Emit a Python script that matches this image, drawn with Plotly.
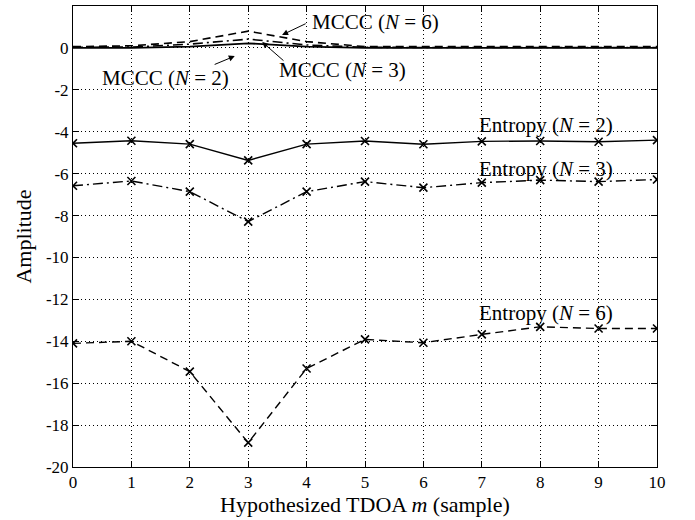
import plotly.graph_objects as go

m = list(range(11))

entropy_n2 = [-4.55, -4.43, -4.59, -5.37, -4.59, -4.44, -4.60, -4.46, -4.44, -4.48, -4.40]
entropy_n3 = [-6.58, -6.35, -6.86, -8.29, -6.86, -6.38, -6.67, -6.43, -6.31, -6.38, -6.28]
entropy_n6 = [-14.10, -14.00, -15.45, -18.84, -15.30, -13.91, -14.07, -13.67, -13.31, -13.39, -13.39]

mccc_n2 = [0.0, 0.0, 0.06, 0.22, 0.06, 0.0, 0.0, 0.0, 0.0, 0.0, 0.0]
mccc_n3 = [0.03, 0.04, 0.18, 0.42, 0.14, 0.03, 0.02, 0.02, 0.02, 0.02, 0.02]
mccc_n6 = [0.06, 0.1, 0.3, 0.8, 0.3, 0.06, 0.06, 0.06, 0.06, 0.06, 0.06]

x_ticks = list(range(11))
x_ticktext = [str(v) for v in x_ticks]
y_ticks = list(range(-20, 3, 2))
y_ticktext = [str(v) for v in y_ticks]

SERIF = "Liberation Serif"
DASH = "8px,5px"
DASHDOT = "10px,4px,2px,4px"

fig = go.Figure()

def add_line(y, dash, markers=False, width=1.4):
    fig.add_trace(go.Scatter(
        x=m, y=y,
        mode="lines+markers" if markers else "lines",
        line=dict(color="black", width=width, dash=dash),
        marker=dict(symbol="x-thin", size=8, line=dict(color="black", width=1.6)),
        showlegend=False,
    ))

add_line(mccc_n6, DASH, width=1.6)
add_line(mccc_n3, DASHDOT, width=1.6)
add_line(mccc_n2, "solid", width=1.8)
add_line(entropy_n2, "solid", markers=True)
add_line(entropy_n3, DASHDOT, markers=True)
add_line(entropy_n6, DASH, markers=True)

ann_font = dict(family=SERIF, size=21, color="black")

texts = [
    ("MCCC (<i>N</i> = 6)", 4.06, 1.22, "left"),
    ("MCCC (<i>N</i> = 2)", 1.58, -1.42, "center"),
    ("MCCC (<i>N</i> = 3)", 4.61, -1.05, "center"),
    ("Entropy (<i>N</i> = 2)", 8.10, -3.68, "center"),
    ("Entropy (<i>N</i> = 3)", 8.10, -5.78, "center"),
    ("Entropy (<i>N</i> = 6)", 8.10, -12.65, "center"),
]
for t, x, y, xa in texts:
    fig.add_annotation(x=x, y=y, text=t, showarrow=False, xanchor=xa,
                       yanchor="middle", font=ann_font)

arrows = [
    (3.58, 0.62, 4.01, 1.19),
    (2.77, -0.39, 2.40, -0.82),
    (3.24, 0.28, 3.63, -0.67),
]
for hx, hy, tx, ty in arrows:
    fig.add_annotation(x=hx, y=hy, ax=tx, ay=ty, axref="x", ayref="y",
                       text="", showarrow=True, arrowhead=2, arrowsize=1.2,
                       arrowwidth=1, arrowcolor="black")

fig.add_annotation(xref="paper", yref="paper", x=0.5, y=-0.081,
                   text="Hypothesized TDOA <i>m</i> (sample)", showarrow=False,
                   xanchor="center", yanchor="middle",
                   font=dict(family=SERIF, size=22, color="black"))

axis_common = dict(
    showline=True, linecolor="black", linewidth=1, mirror="ticks",
    ticks="inside", ticklen=6, tickwidth=1, tickcolor="black",
    showgrid=True, gridcolor="black", gridwidth=0.6, griddash="1px,3px",
    zeroline=False, tickfont=dict(family=SERIF, size=17, color="black"),
)

fig.update_xaxes(range=[0, 10], tickvals=x_ticks, ticktext=x_ticktext,
                 **axis_common)
fig.update_yaxes(range=[-20, 2], tickvals=y_ticks, ticktext=y_ticktext,
                 title=dict(text="Amplitude",
                            font=dict(family=SERIF, size=22, color="black"),
                            standoff=8),
                 **axis_common)

fig.update_layout(
    width=695, height=520,
    margin=dict(l=73, r=38, t=6, b=53),
    paper_bgcolor="white", plot_bgcolor="white",
    font=dict(family=SERIF, color="black"),
)

fig.write_html("out.html", config={"displayModeBar": False},
               post_script="document.body.style.margin='0';")
